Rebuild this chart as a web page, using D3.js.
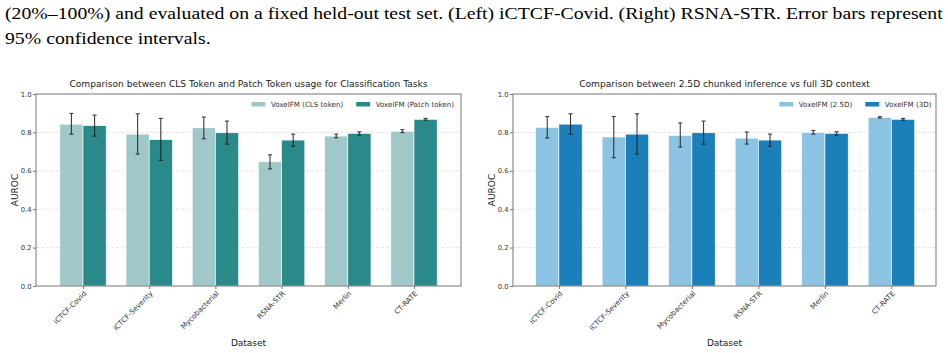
<!DOCTYPE html>
<html>
<head>
<meta charset="utf-8">
<script src="https://cdn.jsdelivr.net/npm/d3@7"></script>
<style>
  body { margin: 0; background: #fff; }
  svg { display: block; }
</style>
</head>
<body>
<svg id="fig" width="948" height="353"></svg>
<script>
// data
const datasets = ["iCTCF-Covid", "iCTCF-Severity", "Mycobacterial", "RSNA-STR", "Merlin", "CT-RATE"];
const yTicks = [0.0, 0.2, 0.4, 0.6, 0.8, 1.0];

const clsMean = [0.843, 0.791, 0.824, 0.647, 0.781, 0.806];
const clsLo   = [0.791, 0.687, 0.767, 0.610, 0.772, 0.799];
const clsHi   = [0.899, 0.897, 0.880, 0.683, 0.791, 0.814];

const patchMean = [0.835, 0.762, 0.798, 0.760, 0.795, 0.868];
const patchLo   = [0.781, 0.654, 0.739, 0.727, 0.786, 0.864];
const patchHi   = [0.890, 0.873, 0.859, 0.791, 0.803, 0.873];

const d25Mean = [0.826, 0.776, 0.784, 0.770, 0.800, 0.878];
const d25Lo   = [0.771, 0.668, 0.724, 0.739, 0.791, 0.875];
const d25Hi   = [0.882, 0.883, 0.849, 0.802, 0.810, 0.882];

const d3Mean = [0.843, 0.791, 0.798, 0.760, 0.795, 0.868];
const d3Lo   = [0.791, 0.687, 0.739, 0.727, 0.786, 0.864];
const d3Hi   = [0.897, 0.897, 0.859, 0.791, 0.803, 0.873];

const captionLines = [
  "(20%\u2013100%) and evaluated on a fixed held-out test set. (Left) iCTCF-Covid. (Right) RSNA-STR. Error bars represent",
  "95% confidence intervals."
];

const FONT = "DejaVu Sans, sans-serif";
const svg = d3.select("#fig");

// caption from the paper above the figure (the page is stretched sideways in the picture)
const capG = svg.append("g");
const cap1 = capG.append("text")
  .attr("x", 0).attr("y", 19.5)
  .style("font-family", "Liberation Serif, serif").style("font-size", "16px")
  .style("fill", "#000")
  .text(captionLines[0]);
capG.append("text")
  .attr("x", 0).attr("y", 44)
  .style("font-family", "Liberation Serif, serif").style("font-size", "16px")
  .style("fill", "#000")
  .text(captionLines[1]);
const stretch = 938 / cap1.node().getComputedTextLength();
capG.attr("transform", `translate(5,0) scale(${stretch},1)`);

function drawPanel(cfg) {
  const g = svg.append("g");
  const x = d3.scaleLinear().domain(cfg.xDomain).range([cfg.left, cfg.right]);
  const y = d3.scaleLinear().domain([0, 1]).range([cfg.bottom, cfg.top]);
  const barW = x(0.35) - x(0);

  // grid
  g.append("g").selectAll("line")
    .data(yTicks.filter(t => t > 0 && t < 1))
    .join("line")
    .attr("x1", cfg.left).attr("x2", cfg.right)
    .attr("y1", d => y(d)).attr("y2", d => y(d))
    .style("stroke", "#dddddd").style("stroke-width", 0.8)
    .style("stroke-dasharray", "3,2");

  const series = [
    { mean: cfg.s1.mean, lo: cfg.s1.lo, hi: cfg.s1.hi, color: cfg.s1.color, off: -0.175 },
    { mean: cfg.s2.mean, lo: cfg.s2.lo, hi: cfg.s2.hi, color: cfg.s2.color, off: 0.175 }
  ];

  series.forEach(s => {
    g.append("g").selectAll("rect")
      .data(datasets.map((d, i) => i))
      .join("rect")
      .attr("x", i => x(i + s.off) - barW / 2)
      .attr("width", barW)
      .attr("y", i => y(s.mean[i]))
      .attr("height", i => y(0) - y(s.mean[i]))
      .style("fill", s.color)
      .style("stroke", "#ffffff").style("stroke-width", 0.6);
  });

  // error bars
  series.forEach(s => {
    const eb = g.append("g").selectAll("g")
      .data(datasets.map((d, i) => i))
      .join("g")
      .style("stroke", "#1a1a1a").style("stroke-width", 1.1).style("opacity", 0.85);
    eb.append("line")
      .attr("x1", i => x(i + s.off)).attr("x2", i => x(i + s.off))
      .attr("y1", i => y(s.lo[i])).attr("y2", i => y(s.hi[i]));
    eb.append("line")
      .attr("x1", i => x(i + s.off) - 2).attr("x2", i => x(i + s.off) + 2)
      .attr("y1", i => y(s.lo[i])).attr("y2", i => y(s.lo[i]));
    eb.append("line")
      .attr("x1", i => x(i + s.off) - 2).attr("x2", i => x(i + s.off) + 2)
      .attr("y1", i => y(s.hi[i])).attr("y2", i => y(s.hi[i]));
  });

  // frame
  g.append("rect")
    .attr("x", cfg.left).attr("y", cfg.top)
    .attr("width", cfg.right - cfg.left).attr("height", cfg.bottom - cfg.top)
    .style("fill", "none").style("stroke", "#777777").style("stroke-width", 1);

  // y axis
  const yAxis = g.append("g")
    .attr("transform", `translate(${cfg.left},0)`)
    .call(d3.axisLeft(y).tickValues(yTicks).tickFormat(d3.format(".1f")).tickSize(3).tickPadding(1.5));
  yAxis.select(".domain").remove();
  yAxis.selectAll(".tick line").style("stroke", "#777777");
  yAxis.selectAll(".tick text")
    .style("font-family", FONT).style("font-size", "6.8px").style("fill", "#333333");

  // x axis
  const xAxis = g.append("g")
    .attr("transform", `translate(0,${cfg.bottom})`)
    .call(d3.axisBottom(x).tickValues(datasets.map((d, i) => i)).tickFormat(i => datasets[i]).tickSize(3));
  xAxis.select(".domain").remove();
  xAxis.selectAll(".tick line").style("stroke", "#777777");
  xAxis.selectAll(".tick text")
    .style("font-family", FONT).style("font-size", "7.2px").style("fill", "#333333")
    .attr("text-anchor", "end")
    .attr("dy", null)
    .attr("y", 0)
    .attr("transform", "translate(3.5,8) rotate(-45)");

  // labels
  const cx = (cfg.left + cfg.right) / 2;
  g.append("text")
    .attr("x", cx).attr("y", cfg.top - 7.5)
    .attr("text-anchor", "middle")
    .style("font-family", FONT).style("font-size", "9.1px").style("fill", "#222222")
    .text(cfg.title);
  g.append("text")
    .attr("x", cx).attr("y", 345.5)
    .attr("text-anchor", "middle")
    .style("font-family", FONT).style("font-size", "9px").style("fill", "#222222")
    .text("Dataset");
  g.append("text")
    .attr("transform", `translate(${cfg.left - 18.5},${(cfg.top + cfg.bottom) / 2}) rotate(-90)`)
    .attr("text-anchor", "middle")
    .style("font-family", FONT).style("font-size", "9px").style("fill", "#222222")
    .text("AUROC");

  // legend, right aligned inside the top of the axes
  const lg = g.append("g");
  const items = [cfg.s1, cfg.s2];
  const texts = items.map(it => lg.append("text")
    .attr("y", cfg.top + 12.5)
    .style("font-family", FONT).style("font-size", "7.1px").style("fill", "#333333")
    .text(it.label));
  const widths = texts.map(t => t.node().getComputedTextLength());
  const patchW = 14, gapPT = 5.5, gapItems = 13;
  const total = 2 * (patchW + gapPT) + widths[0] + widths[1] + gapItems;
  let lx = cfg.right - cfg.legendPad - total;
  items.forEach((it, k) => {
    lg.append("rect")
      .attr("x", lx).attr("y", cfg.top + 8)
      .attr("width", patchW).attr("height", 4.5)
      .style("fill", it.color);
    texts[k].attr("x", lx + patchW + gapPT);
    lx += patchW + gapPT + widths[k] + gapItems;
  });
}

drawPanel({
  left: 36, right: 461, top: 94, bottom: 286,
  xDomain: [-0.71, 5.71], legendPad: 7,
  title: "Comparison between CLS Token and Patch Token usage for Classification Tasks",
  s1: { mean: clsMean, lo: clsLo, hi: clsHi, color: "#a0c8c8", label: "VoxelFM (CLS token)" },
  s2: { mean: patchMean, lo: patchLo, hi: patchHi, color: "#2a8a89", label: "VoxelFM (Patch token)" }
});

drawPanel({
  left: 513, right: 936, top: 94, bottom: 286,
  xDomain: [-0.69, 5.67], legendPad: 4.5,
  title: "Comparison between 2.5D chunked inference vs full 3D context",
  s1: { mean: d25Mean, lo: d25Lo, hi: d25Hi, color: "#8dc3e2", label: "VoxelFM (2.5D)" },
  s2: { mean: d3Mean, lo: d3Lo, hi: d3Hi, color: "#1b7fba", label: "VoxelFM (3D)" }
});
</script>
</body>
</html>
